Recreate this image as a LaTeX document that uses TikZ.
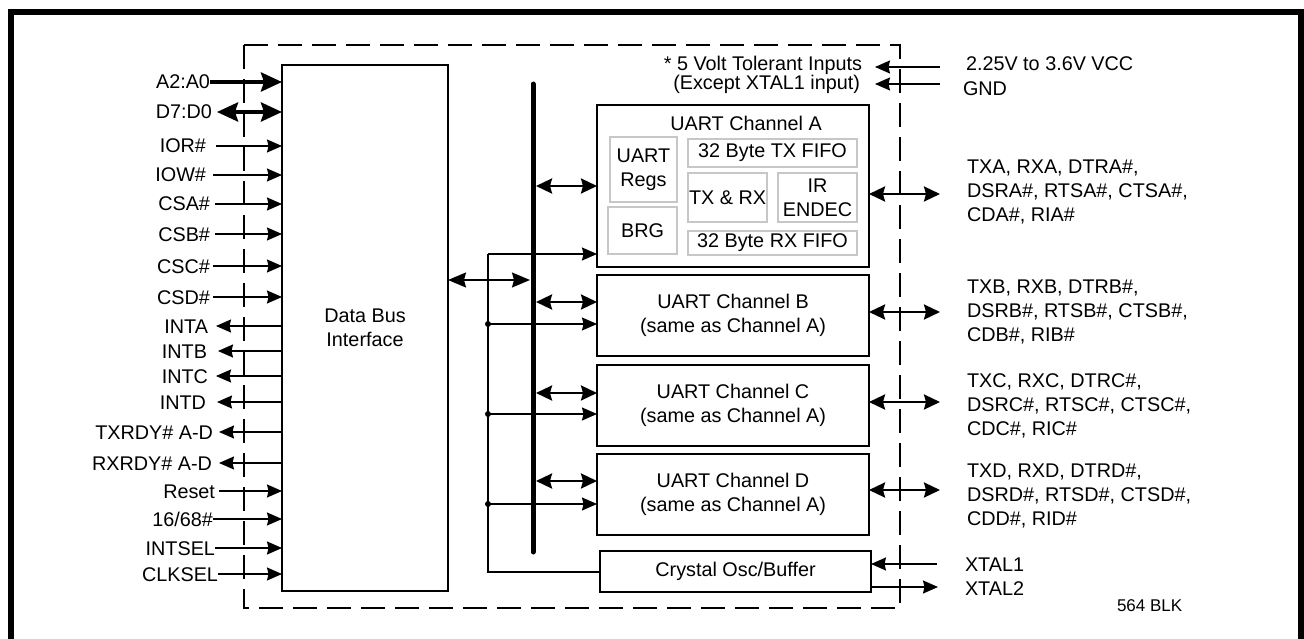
\documentclass[tikz,border=0pt]{standalone}
\usepackage{fontspec}
\setmainfont{Liberation Sans}
\usetikzlibrary{arrows.meta}
\tikzset{
  tn/.tip={Stealth[length=15pt,width=13pt,inset=1.5pt]},
  tm/.tip={Stealth[length=16pt,width=15pt,inset=2pt]},
  tk/.tip={Stealth[length=21pt,width=19pt,inset=3pt]},
  tb/.tip={Stealth[length=18pt,width=15pt,inset=2pt]}
}
\begin{document}
\begin{tikzpicture}[x=1pt,y=-1pt,
  every node/.style={inner sep=0pt, outer sep=0pt, font=\fontsize{19.8}{24}\selectfont},
  blk/.style={draw, line width=2pt, align=center},
  ibox/.style={draw=black!22, line width=1.5pt, align=center},
  lbl/.style={text height=14pt, text depth=0pt},
  rlbl/.style={align=left, anchor=west},
  sigin/.style={line width=1.5pt, -{tn}},
  sigout/.style={line width=1.5pt, {tn}-},
  sigbi/.style={line width=1.5pt, {tb}-{tb}},
  medbi/.style={line width=2.5pt, {tm}-{tm}},
  thkin/.style={line width=4pt, -{tk}},
  thkbi/.style={line width=4pt, {tk}-{tk}},
  clk/.style={line width=1.5pt},
  dashbox/.style={line width=1.5pt, dash pattern=on 24pt off 10pt},
  frame/.style={line width=6pt}
]
\useasboundingbox (0,0) rectangle (1304,639);
\draw[frame] (11,12) rectangle (1301,700);
\draw[dashbox] (244,45) rectangle (900,608);

% Data bus interface
\node[blk, minimum width=166pt, minimum height=526pt] (dbi) at (365,328) {Data Bus\\Interface};

% bus
\coordinate (busT) at (533,84);
\coordinate (busB) at (533,552);
\draw[line width=5pt, line cap=round] (busT) -- (busB);

% Channel boxes
\node[blk, minimum width=272pt, minimum height=162pt] (chA) at (733,186) {};
\node (chAt) at (746,123) {UART Channel A};
\node[ibox, minimum width=67pt, minimum height=65pt] (regs) at (643.5,169.5) {UART\\Regs};
\node[ibox, minimum width=69pt, minimum height=47pt] (brg) at (642.5,230.5) {BRG};
\node[ibox, minimum width=169pt, minimum height=28pt] (txf) at (772.5,153) {32 Byte TX FIFO};
\node[ibox, minimum width=79pt, minimum height=49pt] (txrx) at (727.5,197.5) {TX \& RX};
\node[ibox, minimum width=79pt, minimum height=49pt] (ir) at (817.5,197.5) {IR\\ENDEC};
\node[ibox, minimum width=169pt, minimum height=24pt] (rxf) at (772.5,243) {32 Byte RX FIFO};

\node[blk, minimum width=272pt, minimum height=81pt] (chB) at (733,315.5) {UART Channel B\\(same as Channel A)};
\node[blk, minimum width=272pt, minimum height=81pt] (chC) at (733,405.5) {UART Channel C\\(same as Channel A)};
\node[blk, minimum width=272pt, minimum height=81pt] (chD) at (733,494.5) {UART Channel D\\(same as Channel A)};
\node[blk, minimum width=271pt, minimum height=41pt] (xtal) at (735.5,571.5) {Crystal Osc/Buffer};

% bus to channels
\coordinate (bA) at (536,186);
\coordinate (bB) at (536,302);
\coordinate (bC) at (536,393);
\coordinate (bD) at (536,481);
\draw[medbi] (bA) -- (bA -| chA.west);
\draw[medbi] (bB) -- (bB -| chB.west);
\draw[medbi] (bC) -- (bC -| chC.west);
\draw[medbi] (bD) -- (bD -| chD.west);

% data bus interface to bus
\coordinate (bL) at (530,280);
\draw[sigbi] (bL -| dbi.east) -- (bL);

% clock distribution
\coordinate (kA) at (488,254);
\coordinate (kB) at (488,324);
\coordinate (kC) at (488,414);
\coordinate (kD) at (488,504);
\coordinate (kX) at (488,572);
\draw[clk] (kX -| xtal.west) -- (kX) -- (kA);
\draw[sigin] (kA) -- (kA -| chA.west);
\draw[sigin] (kB) -- (kB -| chB.west);
\draw[sigin] (kC) -- (kC -| chC.west);
\draw[sigin] (kD) -- (kD -| chD.west);
\fill (kB) circle (3pt);
\fill (kC) circle (3pt);
\fill (kD) circle (3pt);

% left signals
\node[lbl, anchor=east] (a) at (210,82) {A2:A0};
\draw[thkin] (a.east) -- (a.east -| dbi.west);
\node[lbl, anchor=east] (d) at (212,112) {D7:D0};
\draw[thkbi] ([xshift=5pt]d.east) -- (d.east -| dbi.west);
\foreach \n/\y/\tx/\g/\t in {ior/146/206/10/IOR\#, iow/175/206/7/IOW\#, csa/204/210/5/CSA\#, csb/234/210/5/CSB\#, csc/266/210/3/CSC\#, csd/297/210/3/CSD\#, reset/491/215/4/Reset, intsel/548/215/0/INTSEL, clksel/574/218/0/CLKSEL}{
  \node[lbl, anchor=east] (\n) at (\tx,\y) {\t};
  \draw[sigin] ([xshift=\g pt]\n.east) -- (\n.east -| dbi.west);
}
\node[lbl, anchor=east] (sixt) at (213,519) {16/68\#};
\draw[sigin] (sixt.east) -- (sixt.east -| dbi.west);
\foreach \n/\y/\tx/\g/\t in {inta/326/208/8/INTA, intb/351/207/11/INTB, intc/376/208/8/INTC, intd/402/206/11/INTD, txrdy/432/213/6/TXRDY\# A-D, rxrdy/463/212/7/RXRDY\# A-D}{
  \node[lbl, anchor=east] (\n) at (\tx,\y) {\t};
  \draw[sigout] ([xshift=\g pt]\n.east) -- (\n.east -| dbi.west);
}

% right side signals
\coordinate (rA) at (940,194);
\coordinate (rB) at (940,312);
\coordinate (rC) at (940,402);
\coordinate (rD) at (940,490);
\draw[medbi] (rA -| chA.east) -- (rA);
\draw[medbi] (rB -| chB.east) -- (rB);
\draw[medbi] (rC -| chC.east) -- (rC);
\draw[medbi] (rD -| chD.east) -- (rD);
\node[rlbl] (lA) at (967,192) {TXA, RXA, DTRA\#,\\DSRA\#, RTSA\#, CTSA\#,\\CDA\#, RIA\#};
\node[rlbl] (lB) at (967,312) {TXB, RXB, DTRB\#,\\DSRB\#, RTSB\#, CTSB\#,\\CDB\#, RIB\#};
\node[rlbl] (lC) at (967,406) {TXC, RXC, DTRC\#,\\DSRC\#, RTSC\#, CTSC\#,\\CDC\#, RIC\#};
\node[rlbl] (lD) at (967,496) {TXD, RXD, DTRD\#,\\DSRD\#, RTSD\#, CTSD\#,\\CDD\#, RID\#};

% xtal
\node[lbl, anchor=west] (x1) at (965,564) {XTAL1};
\node[lbl, anchor=west] (x2) at (965,588) {XTAL2};
\coordinate (x1s) at (937,564);
\coordinate (x2e) at (938,587);
\draw[sigin] (x1s) -- (x1s -| xtal.east);
\draw[sigin] (x2e -| xtal.east) -- (x2e);

% power
\node[lbl, anchor=east] (tol1) at (862,64) {* 5 Volt Tolerant Inputs};
\node[lbl, anchor=east] (tol2) at (860,83) {(Except XTAL1 input)};
\node[lbl, anchor=west] (vcc) at (966,64) {2.25V to 3.6V VCC};
\node[lbl, anchor=west] (gnd) at (963,89) {GND};
\coordinate (vs) at (940,67);
\coordinate (gs) at (940,84);
\coordinate (ve) at (875,67);
\coordinate (ge) at (875,84);
\draw[sigin] (vs) -- (ve);
\draw[sigin] (gs) -- (ge);

\node[font=\fontsize{17}{20}\selectfont, lbl, text height=12pt, anchor=west] (blk) at (1117,605) {564 BLK};
\end{tikzpicture}
\end{document}
